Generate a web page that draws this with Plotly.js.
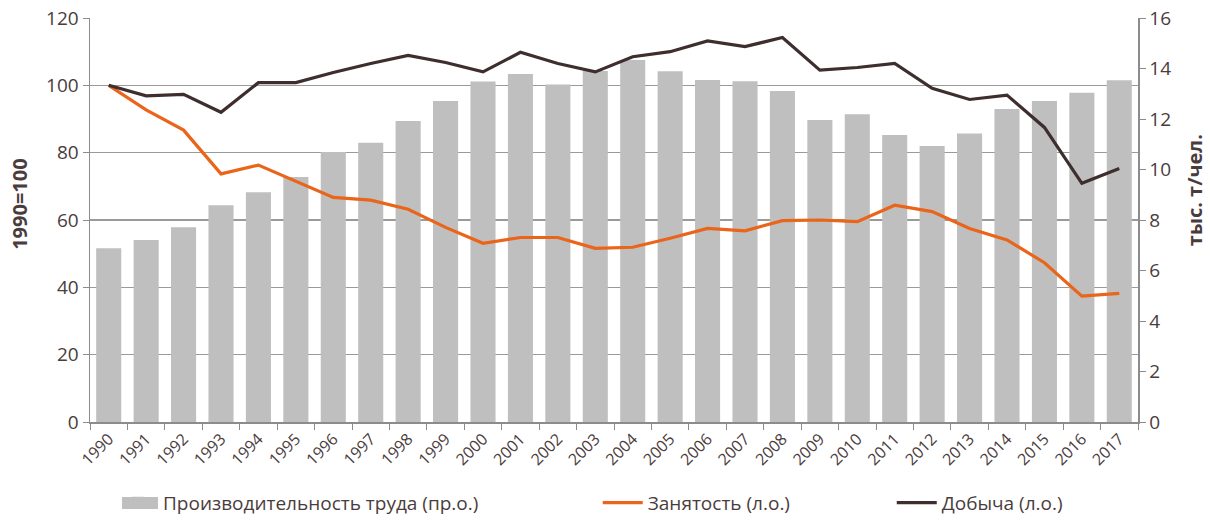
<!DOCTYPE html>
<html>
<head>
<meta charset="utf-8">
<script src="https://cdn.plot.ly/plotly-3.0.1.min.js"></script>
<style>html,body{margin:0;padding:0;background:#fff}#chart{width:1210px;height:520px}</style>
</head>
<body>
<div id="chart"></div>
<script>
const years = ["1990","1991","1992","1993","1994","1995","1996","1997","1998","1999","2000","2001","2002","2003","2004","2005","2006","2007","2008","2009","2010","2011","2012","2013","2014","2015","2016","2017"];
// Производительность труда, тыс. т/чел. (правая ось)
const productivity = [6.88,7.21,7.71,8.58,9.10,9.70,10.69,11.06,11.92,12.71,13.49,13.78,13.37,13.90,14.34,13.89,13.54,13.50,13.11,11.96,12.19,11.37,10.93,11.43,12.40,12.71,13.04,13.53];
// Занятость, 1990=100 (левая ось)
const employment = [100,92.7,86.7,73.7,76.3,71.5,66.7,65.9,63.2,57.8,53.1,54.8,54.8,51.6,51.9,54.6,57.5,56.8,59.8,60.0,59.5,64.4,62.5,57.5,54.1,47.3,37.4,38.2];
// Добыча, 1990=100 (левая ось)
const production = [100,96.9,97.3,92.0,100.8,100.8,103.8,106.5,108.9,106.8,104.0,109.8,106.5,104.0,108.5,110.0,113.2,111.5,114.2,104.5,105.3,106.5,99.1,95.8,97.1,87.5,70.9,75.3];
const leftTicks = [0,20,40,60,80,100,120];
const rightTicks = [0,2,4,6,8,10,12,14,16];
const leftTitle = '1990=100';
const rightTitle = 'тыс. т/чел.';

const txt = '#4a3c3c';
const axisCol = '#8c8c8c';
const barCol = '#bfbfbf';
const fontFam = '"Open Sans", "Noto Sans", sans-serif';

const traces = [
  {type:'bar', x:years, y:productivity, name:'Производительность труда (пр.о.)', yaxis:'y',
   marker:{color:barCol, line:{width:0}}, legend:'legend'},
  {type:'scatter', mode:'lines', x:years, y:employment, name:'Занятость (л.о.)', yaxis:'y2',
   line:{color:'#ea6419', width:3.2}, legend:'legend2'},
  {type:'scatter', mode:'lines', x:years, y:production, name:'Добыча (л.о.)', yaxis:'y2',
   line:{color:'#3f2e2e', width:3.2}, legend:'legend3'}
];

const legendBase = {orientation:'h', xref:'container', yref:'container', yanchor:'middle', y:0.033, xanchor:'left',
  font:{family:fontFam, size:19, color:txt}, bgcolor:'rgba(0,0,0,0)', itemwidth:40, tracegroupgap:0};

const layout = {
  width:1210, height:520,
  margin:{l:90, r:72, t:18, b:98, autoexpand:false},
  paper_bgcolor:'#fff', plot_bgcolor:'#fff',
  font:{family:fontFam, color:txt},
  bargap:0.33,
  showlegend:true,
  xaxis:{type:'category', tickangle:-45, tickson:'boundaries', ticks:'outside', ticklen:6, automargin:false,
    tickcolor:axisCol, showline:true, linecolor:axisCol, linewidth:1.5, showgrid:false,
    tickfont:{size:16, color:txt, family:fontFam}, fixedrange:true},
  yaxis:{side:'right', range:[0,16], tickvals:rightTicks, ticks:'outside', ticklen:6, automargin:false,
    tickcolor:axisCol, showline:true, linecolor:axisCol, linewidth:1.5, showgrid:false, zeroline:false,
    tickfont:{size:19, color:txt, family:fontFam}},
  yaxis2:{overlaying:'y', side:'left', range:[0,120], tickvals:leftTicks, ticks:'outside', ticklen:6, automargin:false,
    tickcolor:axisCol, showline:true, linecolor:axisCol, linewidth:1.5, showgrid:true, gridcolor:'#9a9a9a', gridwidth:1.2,
    zeroline:false, tickfont:{size:19, color:txt, family:fontFam}},
  annotations:[
    {text:'<b>'+leftTitle+'</b>', xref:'paper', yref:'paper', x:-0.0668, y:0.54, xanchor:'center', yanchor:'middle',
     textangle:-90, showarrow:false, font:{size:20, color:txt, family:fontFam}},
    {text:'<b>'+rightTitle+'</b>', xref:'paper', yref:'paper', x:1.0535, y:0.574, xanchor:'center', yanchor:'middle',
     textangle:-90, showarrow:false, font:{size:20, color:txt, family:fontFam}}
  ],
  shapes:[
    {type:'rect', xref:'paper', yref:'paper', x0:(122-90)/1048, x1:(158-90)/1048, y0:(422-509)/404, y1:(422-497)/404,
     fillcolor:barCol, line:{width:0}}
  ],
  legend:Object.assign({}, legendBase, {x:0.0934}),
  legend2:Object.assign({}, legendBase, {x:0.494}),
  legend3:Object.assign({}, legendBase, {x:0.737})
};

Plotly.newPlot('chart', traces, layout, {displayModeBar:false, staticPlot:true});
</script>
</body>
</html>
